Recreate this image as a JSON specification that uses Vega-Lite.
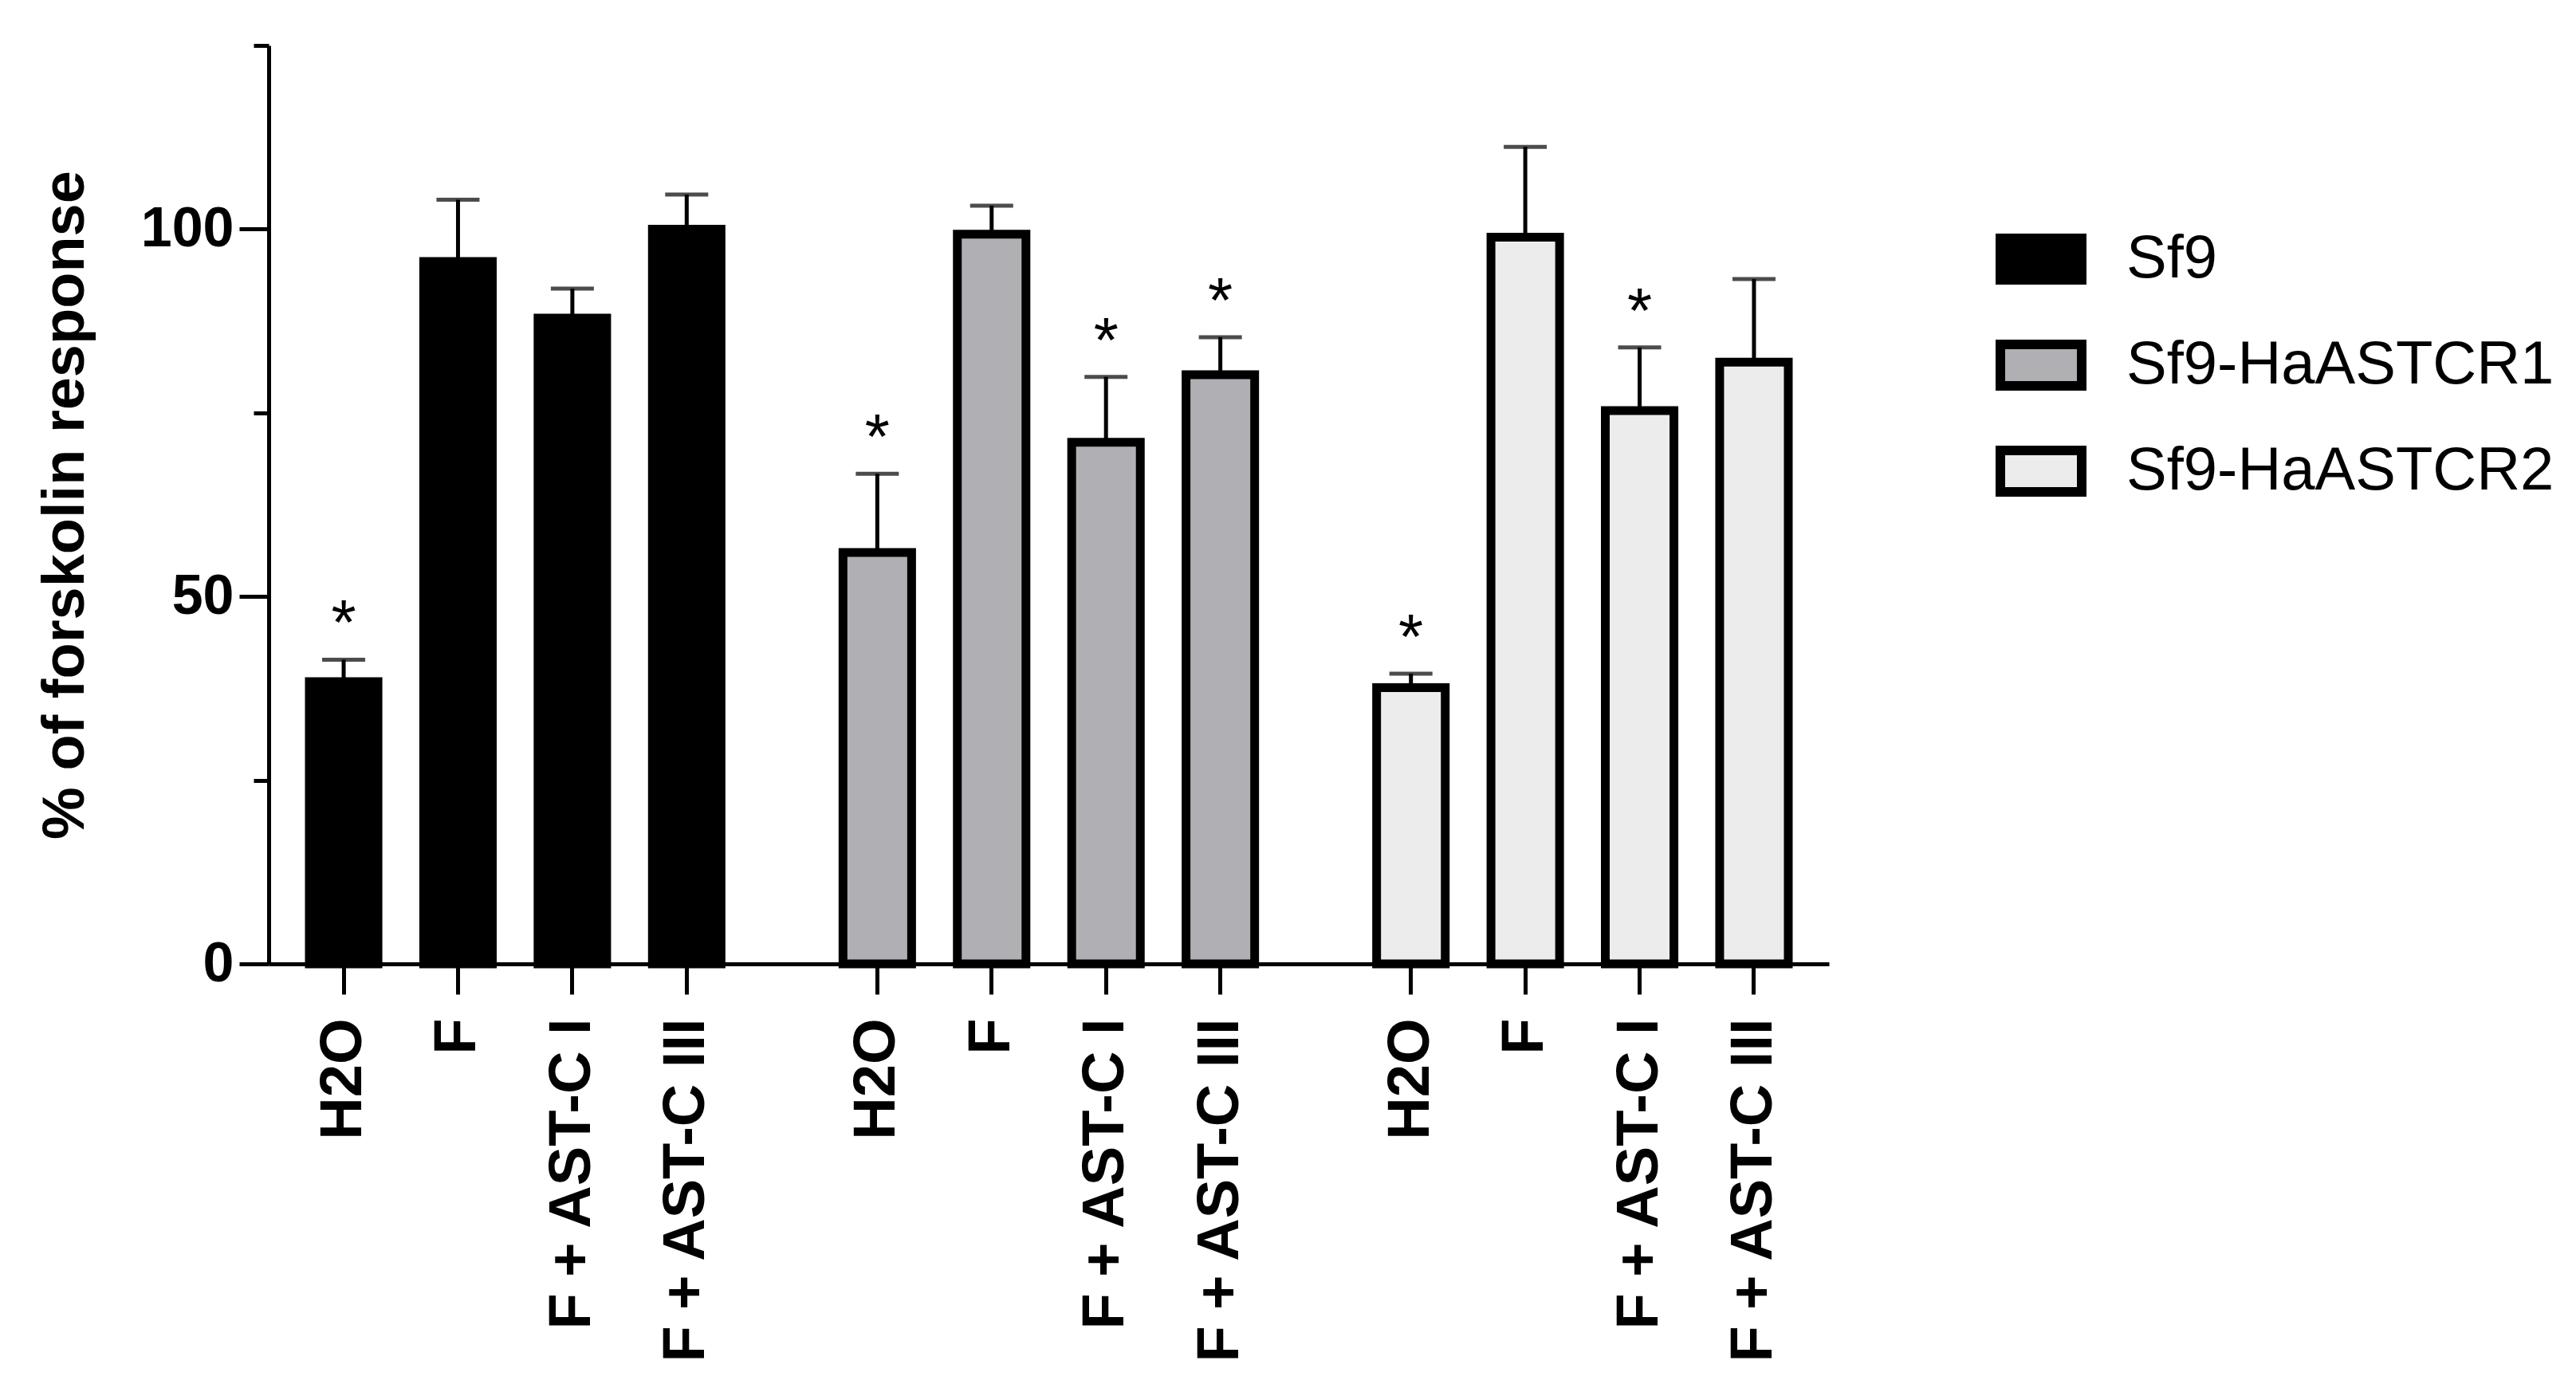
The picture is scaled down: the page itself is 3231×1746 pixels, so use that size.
{
  "$schema": "https://vega.github.io/schema/vega-lite/v6.json",
  "width": 1957,
  "height": 1152,
  "autosize": {"type": "none"},
  "padding": {"left": 337, "top": 57, "right": 937, "bottom": 537},
  "background": "white",
  "config": {
    "view": {"stroke": null},
    "font": "Liberation Sans",
    "axis": {
      "domainColor": "black",
      "domainWidth": 5,
      "tickColor": "black",
      "tickWidth": 5,
      "labelColor": "black",
      "labelFont": "Liberation Sans",
      "labelFontWeight": "bold",
      "labelFontSize": 70,
      "titleFont": "Liberation Sans",
      "titleFontWeight": "bold",
      "titleFontSize": 74,
      "titleColor": "black",
      "grid": false
    }
  },
  "data": {
    "values": [
      {"cell": "Sf9", "treatment": "H2O", "key": "Sf9|H2O", "mean": 38.4, "upper": 41.4, "sig": "*"},
      {"cell": "Sf9", "treatment": "F", "key": "Sf9|F", "mean": 95.6, "upper": 104.0, "sig": ""},
      {"cell": "Sf9", "treatment": "F + AST-C I", "key": "Sf9|F + AST-C I", "mean": 87.9, "upper": 91.9, "sig": ""},
      {"cell": "Sf9", "treatment": "F + AST-C III", "key": "Sf9|F + AST-C III", "mean": 100.0, "upper": 104.7, "sig": ""},
      {"cell": "Sf9-HaASTCR1", "treatment": "H2O", "key": "R1|H2O", "mean": 56.0, "upper": 66.7, "sig": "*"},
      {"cell": "Sf9-HaASTCR1", "treatment": "F", "key": "R1|F", "mean": 99.3, "upper": 103.2, "sig": ""},
      {"cell": "Sf9-HaASTCR1", "treatment": "F + AST-C I", "key": "R1|F + AST-C I", "mean": 71.0, "upper": 79.9, "sig": "*"},
      {"cell": "Sf9-HaASTCR1", "treatment": "F + AST-C III", "key": "R1|F + AST-C III", "mean": 80.2, "upper": 85.3, "sig": "*"},
      {"cell": "Sf9-HaASTCR2", "treatment": "H2O", "key": "R2|H2O", "mean": 37.6, "upper": 39.5, "sig": "*"},
      {"cell": "Sf9-HaASTCR2", "treatment": "F", "key": "R2|F", "mean": 98.9, "upper": 111.2, "sig": ""},
      {"cell": "Sf9-HaASTCR2", "treatment": "F + AST-C I", "key": "R2|F + AST-C I", "mean": 75.3, "upper": 83.9, "sig": "*"},
      {"cell": "Sf9-HaASTCR2", "treatment": "F + AST-C III", "key": "R2|F + AST-C III", "mean": 81.9, "upper": 93.2, "sig": ""}
    ]
  },
  "encoding": {
    "x": {
      "field": "key",
      "type": "nominal",
      "scale": {
        "domain": ["e1",
                   "Sf9|H2O", "s01", "s02", "Sf9|F", "s03", "s04", "Sf9|F + AST-C I", "s05", "s06", "Sf9|F + AST-C III",
                   "s07", "s08", "s09", "s10",
                   "R1|H2O", "s11", "s12", "R1|F", "s13", "s14", "R1|F + AST-C I", "s15", "s16", "R1|F + AST-C III",
                   "s17", "s18", "s19", "s20",
                   "R2|H2O", "s21", "s22", "R2|F", "s23", "s24", "R2|F + AST-C I", "s25", "s26", "R2|F + AST-C III",
                   "e2"],
        "paddingInner": 0,
        "paddingOuter": 0.467
      },
      "axis": {
        "title": null,
        "values": ["Sf9|H2O", "Sf9|F", "Sf9|F + AST-C I", "Sf9|F + AST-C III",
                   "R1|H2O", "R1|F", "R1|F + AST-C I", "R1|F + AST-C III",
                   "R2|H2O", "R2|F", "R2|F + AST-C I", "R2|F + AST-C III"],
        "labelExpr": "split(datum.value, '|')[1]",
        "labelAngle": 270,
        "labelAlign": "right",
        "labelBaseline": "middle",
        "labelFontSize": 74,
        "tickSize": 38,
        "labelPadding": 30,
        "labelLimit": 0
      }
    }
  },
  "layer": [
    {
      "mark": {"type": "bar", "stroke": "black", "strokeWidth": 11, "width": {"band": 1.8}},
      "encoding": {
        "y": {
          "field": "mean",
          "type": "quantitative",
          "scale": {"domain": [0, 125], "nice": false, "zero": true},
          "axis": {
            "title": "% of forskolin response",
            "values": [0, 25, 50, 75, 100, 125],
            "labelExpr": "datum.value % 50 === 0 ? datum.label : ''",
            "tickSize": {"condition": {"test": "datum.value % 50 === 0", "value": 37}, "value": 19},
            "labelPadding": 7,
            "titlePadding": 56
          }
        },
        "fill": {
          "field": "cell",
          "type": "nominal",
          "scale": {
            "domain": ["Sf9", "Sf9-HaASTCR1", "Sf9-HaASTCR2"],
            "range": ["#000000", "#b0b0b4", "#ebeceb"]
          },
          "legend": {
            "title": null,
            "orient": "none",
            "legendX": 2166,
            "legendY": 211,
            "padding": 0,
            "symbolType": "M-1,-0.51H1V0.51H-1Z",
            "symbolSize": 10404,
            "symbolStrokeColor": "black",
            "symbolStrokeWidth": 12,
            "symbolOpacity": 1,
            "labelFont": "Liberation Sans",
            "labelFontSize": 76,
            "labelColor": "black",
            "labelOffset": 50,
            "labelLimit": 0,
            "rowPadding": 25
          }
        }
      }
    },
    {
      "mark": {"type": "rule", "color": "black", "strokeWidth": 5},
      "encoding": {
        "y": {"field": "mean", "type": "quantitative"},
        "y2": {"field": "upper"}
      }
    },
    {
      "mark": {"type": "tick", "color": "black", "thickness": 5, "size": 54, "orient": "horizontal"},
      "encoding": {
        "y": {"field": "upper", "type": "quantitative"}
      }
    },
    {
      "mark": {"type": "text", "fontSize": 80, "font": "Liberation Sans", "color": "black", "baseline": "alphabetic", "dy": -19},
      "encoding": {
        "y": {"field": "upper", "type": "quantitative"},
        "text": {"field": "sig"}
      }
    }
  ]
}
